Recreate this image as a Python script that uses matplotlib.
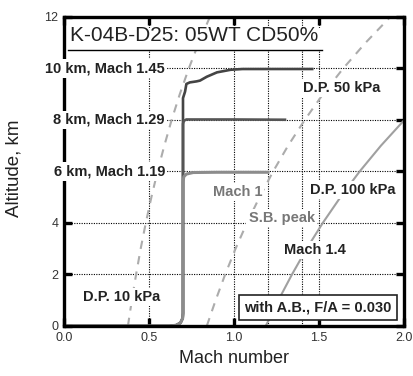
import matplotlib
matplotlib.use('Agg')
import matplotlib.pyplot as plt
from matplotlib.patches import Rectangle

plt.rcParams['font.family'] = ['Liberation Sans', 'DejaVu Sans']

# flight trajectories (Mach, altitude km)
traj10_mach = [0.0, 0.62, 0.66, 0.685, 0.698, 0.70, 0.70, 0.712, 0.72, 0.74, 0.78, 0.80, 0.84, 0.90, 0.98, 1.05, 1.46]
traj10_alt = [0.0, 0.0, 0.03, 0.12, 0.3, 0.5, 8.85, 9.1, 9.4, 9.46, 9.5, 9.53, 9.68, 9.85, 9.95, 9.98, 9.98]
traj8_mach = [0.0, 0.62, 0.66, 0.685, 0.698, 0.70, 0.70, 0.705, 0.72, 1.0, 1.30]
traj8_alt = [0.0, 0.0, 0.03, 0.12, 0.3, 0.5, 7.85, 7.97, 8.02, 8.02, 8.01]
traj6_mach = [0.0, 0.62, 0.66, 0.685, 0.698, 0.70, 0.70, 0.705, 0.72, 0.76, 0.90, 1.20]
traj6_alt = [0.0, 0.0, 0.03, 0.12, 0.3, 0.5, 5.6, 5.8, 5.9, 5.96, 5.97, 5.97]

# constant dynamic pressure lines
dp_alt = [0, 1, 2, 3, 4, 5, 6, 7, 8, 9, 10, 11, 12]
dp10_mach = [0.376, 0.399, 0.424, 0.451, 0.481, 0.514, 0.550, 0.590, 0.633, 0.681, 0.734, 0.793, 0.858]
dp50_mach = [0.840, 0.892, 0.948, 1.009, 1.076, 1.150, 1.230, 1.318, 1.416, 1.523, 1.642, 1.774, 1.919]
dp100_alt = [0, 1, 2, 3, 4, 5, 6, 7, 8]
dp100_mach = [1.187, 1.261, 1.341, 1.427, 1.522, 1.626, 1.739, 1.864, 2.002]

grid_mach = [0.5, 1.0, 1.2, 1.4, 1.5]
grid_alt = [2, 4, 6, 8, 10]

alt_labels = ['10 km, Mach 1.45', '8 km, Mach 1.29', '6 km, Mach 1.19']
alt_label_y = [10, 8, 6]


def main():
    fig = plt.figure(figsize=(4.14, 3.76), dpi=100)
    ax = fig.add_axes([0.1546, 0.133, 0.8212, 0.8218])
    ax.set_xlim(0, 2.0)
    ax.set_ylim(0, 12)

    # dotted reference grid
    for m in grid_mach:
        ax.axvline(m, color='k', lw=0.8, ls=(0, (1, 1.2)), zorder=1)
    for a in grid_alt:
        ax.axhline(a, color='k', lw=0.8, ls=(0, (1, 1.2)), zorder=1)

    # dynamic pressure lines
    ax.plot(dp10_mach, dp_alt, color='#acacac', lw=1.5, ls=(0, (4, 3.5)), zorder=2)
    ax.plot(dp50_mach, dp_alt, color='#acacac', lw=1.5, ls=(0, (4, 3.5)), zorder=2)
    ax.plot(dp100_mach, dp100_alt, color='#a0a0a0', lw=1.5, zorder=2)

    # trajectories
    ax.plot(traj10_mach, traj10_alt, color='#444444', lw=1.9, zorder=3, solid_joinstyle='round')
    ax.plot(traj8_mach, traj8_alt, color='#555555', lw=1.9, zorder=3)
    ax.plot(traj6_mach, traj6_alt, color='#8c8c8c', lw=2.2, zorder=3.5)

    # title with underline
    ax.add_patch(Rectangle((0.02, 10.72), 1.5, 0.85, facecolor='white', edgecolor='none', zorder=4))
    ax.plot([0.024, 1.52], [10.72, 10.72], color='k', lw=1.0, zorder=5)
    ax.text(0.035, 11.27, 'K-04B-D25: 05WT CD50%', fontsize=15, va='center', ha='left',
            color='#222222', zorder=6)

    bold = dict(fontweight='bold', fontsize=10.5, zorder=6)
    wbox = dict(facecolor='white', edgecolor='none', pad=1.5)
    for lab, y in zip(alt_labels, alt_label_y):
        ax.text(0.594, y, lab, ha='right', va='center', color='#222222', bbox=wbox, clip_on=False, **bold)

    ax.text(1.635, 9.25, 'D.P. 50 kPa', ha='center', va='center', color='#222222', bbox=wbox, **bold)
    ax.text(1.70, 5.27, 'D.P. 100 kPa', ha='center', va='center', color='#222222', bbox=wbox, **bold)
    ax.text(1.02, 5.19, 'Mach 1', ha='center', va='center', color='#777777', bbox=wbox, **bold)
    ax.text(1.28, 4.18, 'S.B. peak', ha='center', va='center', color='#777777', bbox=wbox, **bold)
    ax.text(1.475, 2.94, 'Mach 1.4', ha='center', va='center', color='#222222', bbox=wbox, **bold)
    ax.text(0.337, 1.12, 'D.P. 10 kPa', ha='center', va='center', color='#222222', bbox=wbox, **bold)
    ax.text(1.494, 0.72, 'with A.B., F/A = 0.030', ha='center', va='center', color='#222222',
            bbox=dict(facecolor='white', edgecolor='#222222', lw=1.2, pad=4), **bold)

    # axes styling
    for sp in ax.spines.values():
        sp.set_linewidth(2.4)
        sp.set_zorder(5)
    ax.set_xticks([0.0, 0.5, 1.0, 1.5, 2.0])
    ax.set_xticklabels(['0.0', '0.5', '1.0', '1.5', '2.0'])
    ax.set_yticks([0, 2, 4, 6, 8, 10, 12])
    ax.set_yticklabels(['0', '2', '4', '', '', '', '12'])
    ax.tick_params(direction='in', length=6, width=2.4, top=True, right=True,
                   labelsize=9, labelcolor='#333333', pad=4)
    ax.set_xlabel('Mach number', fontsize=13, color='#222222', labelpad=5)
    ax.set_ylabel('Altitude, km', fontsize=13.5, color='#222222')
    ax.yaxis.set_label_coords(-0.122, 0.51)

    fig.savefig('out.png', dpi=100)


if __name__ == '__main__':
    main()
